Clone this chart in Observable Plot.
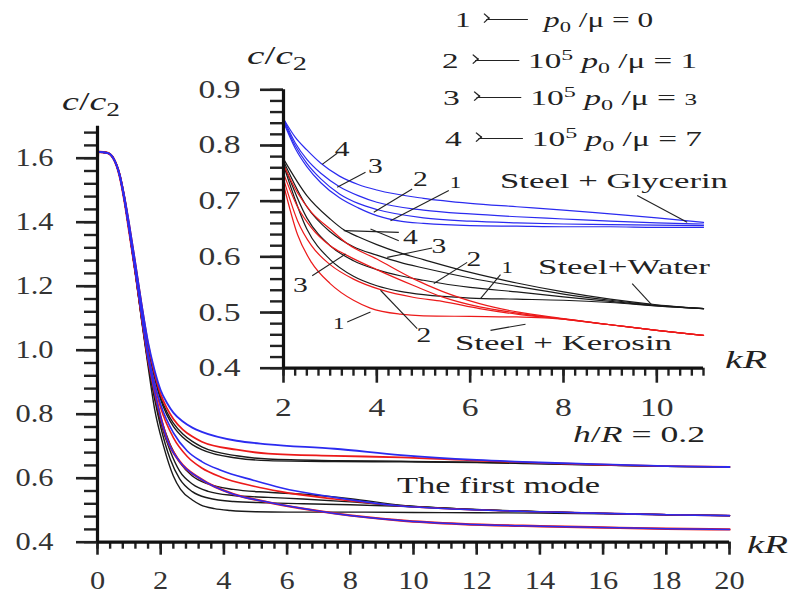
<!DOCTYPE html>
<html><head><meta charset="utf-8">
<script src="https://cdn.jsdelivr.net/npm/d3@7"></script>
<script src="https://cdn.jsdelivr.net/npm/@observablehq/plot@0.6"></script>
<style>
body{margin:0;background:#fff}
#wrap{position:relative;width:792px;height:594px;overflow:hidden;background:#fff}
#wrap svg{position:absolute;left:0;top:0}
.lbl{position:absolute;white-space:nowrap;font-family:"Liberation Serif","Times New Roman","DejaVu Serif","Noto Serif";color:#222;transform-origin:0 50%;line-height:1}
.lbl sub,.lbl sup{line-height:0;font-size:0.72em}
.arr{font-family:"DejaVu Sans";display:inline-block;width:1.6em;position:relative;vertical-align:0.28em;height:0.1em}
.arr::before{content:"";position:absolute;left:0.25em;right:0;top:0;border-top:1.3px solid #222}
.arr::after{content:"";position:absolute;left:0.05em;top:-0.17em;width:0.22em;height:0.22em;border-right:1.3px solid #222;border-top:1.3px solid #222;transform:rotate(45deg) skew(8deg,8deg)}
</style></head><body><div id="wrap"></div>
<script>
// ---------------- main chart data (kR, c/c2) ----------------
const mainTopBlue = [[0,1.62],[0.3,1.617],[0.5,1.6],[0.7,1.55],[0.85,1.48],[1,1.395],[1.2,1.27],[1.4,1.14],[1.6,1.025],[1.8,0.94],[2,0.875],[2.2,0.835],[2.4,0.805],[2.7,0.777],[3,0.758],[3.3,0.745],[4.4,0.717],[5.4,0.706],[7.5,0.692],[9.6,0.672],[12,0.657],[14,0.649],[16,0.643],[18,0.638],[20,0.635]];
const mainTopRed = [[0,1.51],[0.03,1.62],[0.3,1.617],[0.5,1.6],[0.7,1.55],[0.85,1.48],[1,1.395],[1.2,1.27],[1.4,1.14],[1.6,1.02],[1.8,0.93],[2,0.862],[2.2,0.818],[2.4,0.785],[2.7,0.752],[3,0.73],[3.3,0.714],[4.4,0.689],[5.4,0.677],[7.5,0.67],[9.6,0.665],[12,0.655],[14,0.648],[16,0.642],[18,0.638],[20,0.635]];
const mainTopBlack1 = [[0,1.62],[0.3,1.617],[0.5,1.6],[0.7,1.55],[0.85,1.48],[1,1.39],[1.2,1.265],[1.4,1.135],[1.6,1.012],[1.8,0.922],[2,0.852],[2.2,0.806],[2.4,0.772],[2.7,0.738],[3,0.715],[3.3,0.698],[4.4,0.67],[5.4,0.66],[7.5,0.655],[9.6,0.653],[12,0.65],[14,0.646],[16,0.641],[18,0.637],[20,0.635]];
const mainTopBlack2 = [[0,1.62],[0.3,1.617],[0.5,1.6],[0.7,1.55],[0.85,1.48],[1,1.39],[1.2,1.265],[1.4,1.135],[1.6,1.008],[1.8,0.916],[2,0.845],[2.2,0.797],[2.4,0.762],[2.7,0.728],[3,0.705],[3.3,0.689],[4.4,0.663],[5.4,0.655],[7.5,0.652],[9.6,0.651],[12,0.649],[14,0.645],[16,0.641],[18,0.637],[20,0.635]];
const mainMidBlue = [[0,1.62],[0.3,1.617],[0.5,1.6],[0.7,1.545],[0.85,1.47],[1,1.38],[1.2,1.25],[1.4,1.115],[1.6,0.99],[1.8,0.9],[2,0.83],[2.4,0.742],[2.84,0.685],[3.3,0.652],[3.9,0.625],[4.95,0.593],[5.8,0.57],[7.5,0.54],[9.6,0.513],[11.5,0.503],[14,0.495],[16,0.49],[18,0.486],[20,0.483]];
const mainMidRed = [[0,1.62],[0.3,1.617],[0.5,1.6],[0.7,1.545],[0.85,1.47],[1,1.38],[1.2,1.25],[1.4,1.112],[1.6,0.985],[1.8,0.895],[2,0.82],[2.4,0.727],[2.84,0.668],[3.3,0.632],[3.9,0.604],[4.95,0.575],[5.8,0.558],[7.5,0.535],[9.6,0.513],[11.5,0.503],[14,0.495],[16,0.49],[18,0.486],[20,0.483]];
const mainLow = [[0,1.62],[0.3,1.617],[0.5,1.6],[0.7,1.545],[0.85,1.47],[1,1.375],[1.2,1.245],[1.4,1.105],[1.6,0.975],[1.8,0.875],[2,0.79],[2.2,0.722],[2.6,0.652],[3.26,0.598],[4.3,0.55],[5.3,0.527],[6.5,0.505],[7.5,0.49],[9.6,0.468],[11.5,0.457],[14,0.45],[16,0.446],[18,0.442],[20,0.44]];
const mainBlack1 = [[0,1.62],[0.3,1.617],[0.5,1.6],[0.7,1.545],[0.85,1.47],[1,1.375],[1.2,1.24],[1.4,1.1],[1.6,0.97],[1.8,0.87],[2,0.79],[2.3,0.705],[2.6,0.65],[3,0.607],[3.5,0.582],[4.3,0.565],[5.4,0.556],[6.5,0.55],[8,0.536],[9.6,0.516],[11.5,0.504],[14,0.495],[16,0.49],[18,0.486],[20,0.483]];
const mainBlack2 = [[0,1.62],[0.3,1.617],[0.5,1.6],[0.7,1.545],[0.85,1.47],[1,1.375],[1.2,1.24],[1.4,1.098],[1.6,0.965],[1.8,0.86],[2,0.775],[2.3,0.685],[2.6,0.622],[3,0.582],[3.5,0.559],[4.3,0.546],[5.4,0.54],[6.5,0.535],[8,0.526],[9.6,0.514],[11.5,0.504],[14,0.495],[16,0.49],[18,0.486],[20,0.483]];
const mainBlack3 = [[0,1.62],[0.3,1.617],[0.5,1.6],[0.7,1.545],[0.85,1.47],[1,1.375],[1.2,1.24],[1.4,1.095],[1.6,0.96],[1.8,0.85],[2,0.76],[2.3,0.66],[2.6,0.598],[3,0.558],[3.5,0.538],[4.3,0.527],[5.4,0.523],[6.5,0.52],[8,0.517],[9.6,0.512],[11.5,0.504],[14,0.495],[16,0.49],[18,0.486],[20,0.483]];
const mainBlack4 = [[0,1.62],[0.3,1.617],[0.5,1.6],[0.7,1.545],[0.85,1.47],[1,1.375],[1.2,1.24],[1.4,1.09],[1.6,0.95],[1.8,0.82],[2.1,0.697],[2.4,0.607],[2.63,0.565],[3,0.532],[3.26,0.517],[3.7,0.505],[4.2,0.499],[5,0.495],[6,0.494],[8,0.494],[10,0.493],[12,0.492],[14,0.491],[16,0.489],[18,0.486],[20,0.483]];

// ---------------- inset data (kR, c/c2) ----------------
const glyc4 = [[2,0.848],[2.25,0.815],[2.5,0.792],[2.8,0.768],[3.2,0.745],[3.6,0.73],[4,0.72],[5,0.705],[6,0.696],[7,0.69],[8,0.684],[9,0.677],[10,0.67],[11,0.662]];
const glyc3 = [[2,0.848],[2.25,0.805],[2.5,0.775],[2.8,0.75],[3.2,0.726],[3.6,0.71],[4,0.698],[5,0.684],[6,0.677],[7,0.672],[8,0.668],[9,0.664],[10,0.661],[11,0.659]];
const glyc2 = [[2,0.845],[2.25,0.8],[2.5,0.768],[2.8,0.74],[3.2,0.713],[3.6,0.696],[4,0.685],[5,0.67],[6,0.664],[7,0.661],[8,0.659],[9,0.658],[10,0.657],[11,0.656]];
const glyc1 = [[2,0.842],[2.25,0.795],[2.5,0.762],[2.8,0.733],[3.2,0.706],[3.6,0.688],[4,0.674],[4.5,0.664],[5,0.66],[6,0.656],[7,0.655],[8,0.654],[9,0.654],[10,0.653],[11,0.653]];
const water4 = [[2,0.776],[2.5,0.71],[3,0.668],[3.3,0.648],[3.6,0.636],[4,0.622],[4.5,0.607],[5,0.595],[6,0.572],[7,0.553],[8,0.537],[9,0.524],[10,0.514],[11,0.507]];
const water3 = [[2,0.772],[2.5,0.69],[3,0.645],[3.5,0.618],[4,0.603],[4.5,0.59],[5,0.58],[6,0.562],[7,0.547],[8,0.533],[9,0.522],[10,0.513],[11,0.507]];
const water2 = [[2,0.768],[2.5,0.67],[3,0.62],[3.5,0.593],[4,0.577],[4.5,0.566],[5,0.558],[6,0.545],[7,0.537],[8,0.528],[9,0.52],[10,0.512],[11,0.507]];
const water1 = [[2,0.765],[2.5,0.65],[3,0.595],[3.5,0.565],[4,0.548],[4.5,0.538],[5,0.532],[6,0.526],[7,0.524],[8,0.522],[9,0.518],[10,0.512],[11,0.507]];
const kero4 = [[2,0.765],[2.3,0.715],[2.6,0.68],[3,0.65],[3.36,0.624],[4,0.596],[4.8,0.56],[5.4,0.538],[6.2,0.516],[7,0.501],[8,0.489],[9,0.478],[10,0.468],[11,0.459]];
const kero3 = [[2,0.75],[2.3,0.69],[2.6,0.652],[3,0.62],[3.33,0.604],[4,0.577],[4.8,0.548],[5.4,0.528],[6.2,0.51],[7,0.499],[8,0.488],[9,0.478],[10,0.468],[11,0.459]];
const kero2 = [[2,0.74],[2.3,0.665],[2.6,0.62],[3,0.586],[3.5,0.56],[4.08,0.541],[4.8,0.527],[5.4,0.52],[6.2,0.507],[7,0.497],[8,0.488],[9,0.478],[10,0.468],[11,0.459]];
const kero1 = [[2,0.73],[2.3,0.64],[2.6,0.59],[3,0.552],[3.5,0.522],[3.86,0.508],[4.5,0.497],[5,0.494],[6,0.493],[7,0.492],[7.7,0.49],[8,0.488],[9,0.478],[10,0.468],[11,0.459]];

// curve number labels in the inset (kR, c/c2, text, size)
const numLabels = [
  {x:3.258,y:0.794,t:"4",s:22},{x:3.971,y:0.764,t:"3",s:22},{x:4.936,y:0.740,t:"2",s:22},{x:5.686,y:0.734,t:"1",s:17},
  {x:4.721,y:0.635,t:"4",s:22},{x:5.328,y:0.620,t:"3",s:22},{x:6.078,y:0.596,t:"2",s:22},{x:6.794,y:0.580,t:"1",s:17},
  {x:2.364,y:0.549,t:"3",s:22},{x:3.185,y:0.480,t:"1",s:17},{x:5.006,y:0.459,t:"2",s:22}
];
// leader lines in the inset [kR1, c1, kR2, c2]
const leaders = [
  [2.829,0.766,3.151,0.786],[3.151,0.725,3.757,0.752],[3.935,0.680,4.758,0.722],[4.293,0.665,5.542,0.719],
  [3.292,0.647,4.471,0.644],[3.864,0.650,4.471,0.629],[4.222,0.599,5.186,0.616],[5.221,0.552,5.936,0.590],[6.221,0.525,6.650,0.568],
  [2.615,0.566,3.329,0.605],[3.365,0.483,3.864,0.501],[4.079,0.540,4.865,0.471],
  [9.579,0.710,10.65,0.662],[9.472,0.552,9.901,0.513],[6.436,0.468,7.186,0.479]
];

// ticks
const mainXMajor = [0,2,4,6,8,10,12,14,16,18,20];
const mainYMajor = [0.4,0.6,0.8,1.0,1.2,1.4,1.6];
const insetXMajor = [2,4,6,8,10];
const insetYMajor = [0.4,0.5,0.6,0.7,0.8,0.9];
const mainXMinor = d3.range(0, 20.001, 0.4);
const mainYMinor = d3.range(0.4, 1.7001, 0.04);
const insetXMinor = d3.range(2, 11.001, 0.25);
const insetYMinor = d3.range(0.4, 0.9001, 0.02);

const BLUE = "#2b2bf0", RED = "#ec1a1a", BLACK = "#1a1a1a", INK = "#222";
const FONT = "'Liberation Serif', 'Times New Roman', 'DejaVu Serif', 'Noto Serif'";
const ln = (arr, stroke, w) => Plot.line(arr, {x: d => d[0], y: d => d[1], stroke, strokeWidth: w, curve: "monotone-x"});
const styleBase = {background: "transparent", fontFamily: FONT, fontSize: "25px", color: INK, overflow: "visible"};

const main = Plot.plot({
  width: 792, height: 594, marginLeft: 97, marginRight: 63, marginTop: 125.7, marginBottom: 52.3,
  style: styleBase,
  x: {domain: [0, 20]}, y: {domain: [0.4, 1.7]},
  marks: [
    Plot.axisY(mainYMinor, {tickSize: 13, strokeWidth: 2.4, fill: "none", label: null}),
    Plot.axisY(mainYMajor, {tickSize: 21, strokeWidth: 2.6, fill: "none", label: null}),
    Plot.axisY(mainYMajor, {tickSize: 0, tickPadding: 44, tickFormat: d => d.toFixed(1), fill: "#333", label: null, fontFamily: FONT}),
    Plot.axisX(mainXMinor, {tickSize: 7, strokeWidth: 2.4, fill: "none", label: null}),
    Plot.axisX(mainXMajor, {tickSize: 13, strokeWidth: 2.6, fill: "none", label: null}),
    Plot.axisX(mainXMajor, {tickSize: 0, tickPadding: 29, tickFormat: d => String(d), fill: "#333", label: null, fontFamily: FONT}),
    ln(mainBlack4, BLACK, 1.4), ln(mainBlack3, BLACK, 1.4), ln(mainBlack2, BLACK, 1.4), ln(mainBlack1, BLACK, 1.4),
    ln(mainTopBlack2, BLACK, 1.4), ln(mainTopBlack1, BLACK, 1.4),
    ln(mainLow, RED, 2.4), ln(mainMidRed, RED, 1.6), ln(mainTopRed, RED, 1.8),
    ln(mainLow, BLUE, 1.5), ln(mainMidBlue, BLUE, 1.6), ln(mainTopBlue, BLUE, 1.8),
    Plot.ruleX([0], {y1: 0.4, y2: 1.7, strokeWidth: 3.2, stroke: "#111"}),
    Plot.ruleY([0.4], {x1: 0, x2: 20, strokeWidth: 3.2, stroke: "#111"})
  ]
});

const inset = Plot.plot({
  width: 792, height: 594, marginLeft: 283, marginRight: 89, marginTop: 89.3, marginBottom: 226.3,
  style: styleBase,
  x: {domain: [2, 11]}, y: {domain: [0.4, 0.9]},
  marks: [
    Plot.axisY(insetYMinor, {tickSize: 13, strokeWidth: 2.4, fill: "none", label: null}),
    Plot.axisY(insetYMajor, {tickSize: 23, strokeWidth: 2.6, fill: "none", label: null}),
    Plot.axisY(insetYMajor, {tickSize: 0, tickPadding: 43, tickFormat: d => d.toFixed(1), fill: "#333", label: null, fontFamily: FONT}),
    Plot.axisX(insetXMinor, {tickSize: 8, strokeWidth: 2.4, fill: "none", label: null}),
    Plot.axisX(insetXMajor, {tickSize: 15, strokeWidth: 2.6, fill: "none", label: null}),
    Plot.axisX(insetXMajor, {tickSize: 0, tickPadding: 30, tickFormat: d => String(d), fill: "#333", label: null, fontFamily: FONT}),
    ln(water1, BLACK, 1.2), ln(water2, BLACK, 1.2), ln(water3, BLACK, 1.2), ln(water4, BLACK, 1.2),
    ln(kero1, RED, 1.2), ln(kero2, RED, 1.2), ln(kero3, RED, 1.2), ln(kero4, RED, 1.2),
    ln(glyc1, BLUE, 1.2), ln(glyc2, BLUE, 1.2), ln(glyc3, BLUE, 1.2), ln(glyc4, BLUE, 1.2),
    Plot.link(leaders, {x1: d => d[0], y1: d => d[1], x2: d => d[2], y2: d => d[3], stroke: "#222", strokeWidth: 1.1}),
    Plot.text(numLabels, {x: "x", y: "y", text: "t", fontSize: "s", fill: INK, fontFamily: FONT}),
    Plot.ruleX([2], {y1: 0.4, y2: 0.9, strokeWidth: 3.2, stroke: "#111"}),
    Plot.ruleY([0.4], {x1: 2, x2: 11, strokeWidth: 3.2, stroke: "#111"})
  ]
});

const wrap = document.getElementById("wrap");
wrap.appendChild(main);
wrap.appendChild(inset);

// horizontally stretched serif lettering, as in the original: scale so a reference label matches its width
function stretchTexts(svg, refText, refWidth) {
  const texts = [...svg.querySelectorAll("text")];
  const ref = texts.find(t => t.textContent === refText);
  const s = ref ? refWidth / ref.getBBox().width : 1.2;
  texts.forEach(t => {
    const tr = t.getAttribute("transform") || "";
    t.setAttribute("transform", tr + ` scale(${s},1)`);
  });
}
stretchTexts(main, "1.6", 38);
stretchTexts(inset, "0.9", 42);

function addLabel(html, left, cy, width, size, extra) {
  const d = document.createElement("div");
  d.className = "lbl";
  d.innerHTML = html;
  d.style.fontSize = size + "px";
  if (extra) Object.assign(d.style, extra);
  wrap.appendChild(d);
  const r = d.getBoundingClientRect();
  d.style.left = left + "px";
  d.style.top = (cy - r.height / 2) + "px";
  d.style.transform = `scaleX(${width / r.width})`;
}
const arrow = '<span class="arr"></span>';
const p0 = '<i>p</i><sub>0</sub>';
addLabel(`1 ${arrow} &nbsp;${p0} /μ = 0`, 455, 20, 198, 21);
addLabel(`2 ${arrow} 10<sup>5</sup> ${p0} /μ = 1`, 442, 61, 255, 21);
addLabel(`3 ${arrow} 10<sup>5</sup> ${p0} /μ = <span style="font-size:0.75em">3</span>`, 443, 98, 254, 21);
addLabel(`4 ${arrow} 10<sup>5</sup> ${p0} /μ = 7`, 445, 139, 257, 21);
addLabel("Steel + Glycerin", 500, 181, 228, 22);
addLabel("Steel+Water", 538, 267, 172, 22);
addLabel("Steel + Kerosin", 455, 343, 217, 22);
addLabel("<i>h</i>/<i>R</i> = 0.2", 573, 434, 132, 23);
addLabel("The first mode", 397, 485, 203, 23);
addLabel("<i>c</i>/<i>c</i><sub>2</sub>", 62, 101, 58, 25);
addLabel("<i>c</i>/<i>c</i><sub>2</sub>", 247, 55, 60, 25);
addLabel("<i>kR</i>", 747, 545, 41, 26);
addLabel("<i>kR</i>", 725, 360, 42, 26);
</script></body></html>
